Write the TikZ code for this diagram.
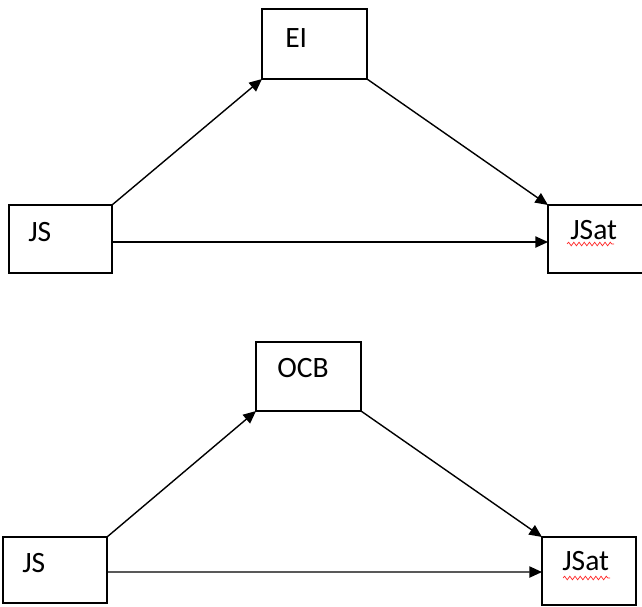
\documentclass[tikz,border=0pt]{standalone}
\usepackage{fontspec}
\setmainfont{Carlito}
\usetikzlibrary{arrows.meta,decorations.pathmorphing}
\tikzset{
  box/.style 2 args={draw, line width=1pt, inner sep=0pt, outer sep=0pt, minimum width=#1, minimum height=#2},
  word/.style={anchor=base west, inner sep=0pt, font=\fontsize{21}{25}\selectfont},
  link/.style={line width=1pt, -{Triangle[length=9pt,width=8pt]}},
  typo/.style={red!85!white, line width=0.5pt, decorate, decoration={snake, amplitude=0.045cm, segment length=0.13cm}}
}
\begin{document}
\begin{tikzpicture}[x=0.025cm,y=-0.025cm]
\useasboundingbox (0,0) rectangle (642,606);
% upper model
\node[box={2.625cm}{1.75cm}] (ei) at (314.5,44) {};
\node[box={2.575cm}{1.7cm}] (js1) at (60.5,239) {};
\node[box={2.55cm}{1.7cm}] (jsat1) at (599,239) {};
\node[word] (eitext) at (285,47) {EI};
\node[word] (js1text) at (28,241) {JS};
\node[word] (jsat1text) at (570,239) {JSat};
\draw[typo] (567,244) -- (614,244);
\draw[link] (js1.north east) -- (ei.south west);
\draw[link] (ei.south east) -- (jsat1.north west);
\draw[link] ([yshift=-0.075cm]js1.east) -- ([yshift=-0.075cm]jsat1.west);
% lower model
\node[box={2.625cm}{1.725cm}] (ocb) at (308.5,376.5) {};
\node[box={2.6cm}{1.65cm}] (js2) at (55,570) {};
\node[box={2.35cm}{1.7cm}] (jsat2) at (589,571) {};
\node[word] (ocbtext) at (277,377) {OCB};
\node[word] (js2text) at (22,572) {JS};
\node[word] (jsat2text) at (562,570) {JSat};
\draw[typo] (563,578) -- (610,578);
\draw[link] (js2.north east) -- (ocb.south west);
\draw[link] (ocb.south east) -- (jsat2.north west);
\draw[link] ([yshift=-0.05cm]js2.east) -- ([yshift=-0.025cm]jsat2.west);
\end{tikzpicture}
\end{document}
